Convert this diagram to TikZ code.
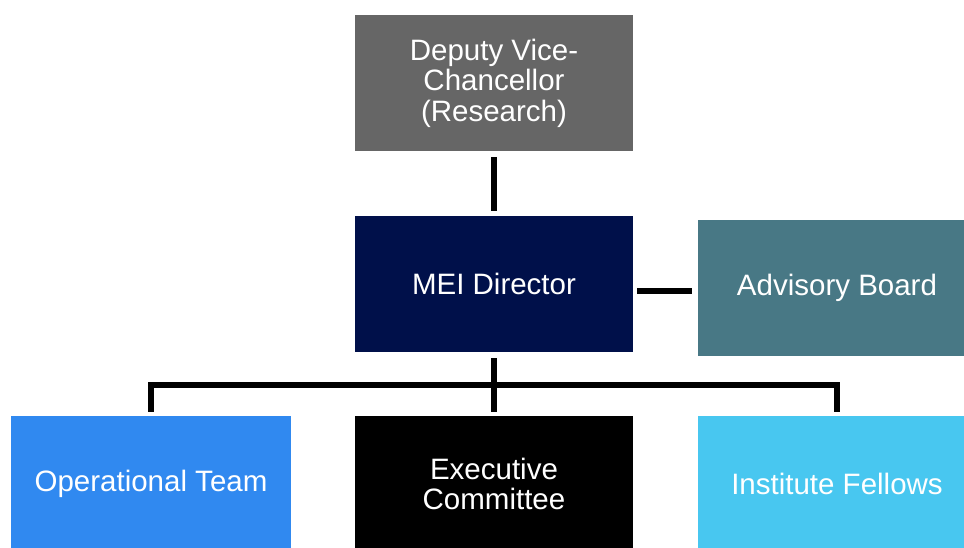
\documentclass[tikz,border=0pt]{standalone}
\usepackage{fontspec}
\setmainfont{Liberation Sans}
\definecolor{dvcgray}{HTML}{666666}
\definecolor{meinavy}{HTML}{00104A}
\definecolor{advteal}{HTML}{487885}
\definecolor{opblue}{HTML}{3089F0}
\definecolor{felblue}{HTML}{48C7F0}
\tikzset{
  orgbox/.style={rectangle, inner sep=0pt, minimum width=278pt, minimum height=136pt,
    align=center, text=white, font=\fontsize{29.5}{30.6}\selectfont},
  link/.style={draw=black, line width=5.5pt, line join=miter},
}
\begin{document}
\begin{tikzpicture}[x=1pt,y=-1pt]
\useasboundingbox (0,0) rectangle (964,547);
\clip (0,0) rectangle (964,547);
\fill[white] (0,0) rectangle (964,547);
\node[orgbox, fill=dvcgray] (dvc) at (494,83) {Deputy Vice-\\Chancellor\\(Research)};
\node[orgbox, fill=meinavy] (mei) at (494,284) {MEI Director};
\node[orgbox, fill=advteal] (adv) at (837,288) {Advisory Board};
\node[orgbox, fill=opblue, minimum width=280pt] (op) at (151,484) {Operational Team};
\node[orgbox, fill=black] (exec) at (494,484) {Executive\\Committee};
\node[orgbox, fill=felblue] (fel) at (837,484) {Institute Fellows};
\draw[link, shorten <=6pt, shorten >=5pt] (dvc.south) -- (mei.north);
\draw[link] ([shift={(4,7)}]mei.east) -- ([shift={(-6,3)}]adv.west);
\draw[link, shorten <=6pt, shorten >=4pt] (mei.south) -- (exec.north);
\draw[link] ([yshift=4pt]op.north) -- ++(0,-27) -| ([yshift=4pt]fel.north);
\end{tikzpicture}
\end{document}
